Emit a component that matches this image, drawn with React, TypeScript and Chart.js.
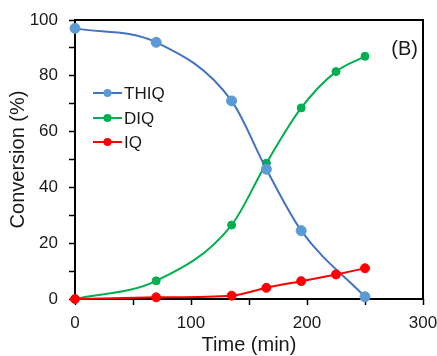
import React, { useEffect, useRef } from "react";
import { Chart, registerables } from "chart.js";

Chart.register(...registerables);

const thiqTime = [0, 70, 135, 165, 195, 250];
const thiqValues = [97, 92, 71, 46.5, 24.5, 0.8];
const diqTime = [0, 70, 135, 165, 195, 225, 250];
const diqValues = [0, 6.5, 26.5, 48.7, 68.5, 81.5, 87];
const iqTime = [0, 70, 135, 165, 195, 225, 250];
const iqValues = [0, 0.6, 1.2, 4, 6.4, 8.8, 11];

const seriesNames = ["THIQ", "DIQ", "IQ"];
const xTitle = "Time (min)";
const yTitle = "Conversion (%)";
const panelLabel = "(B)";

const FONT = '"Liberation Sans", Arial, sans-serif';

const toPoints = (xs: number[], ys: number[]) => xs.map((x, i) => ({ x, y: ys[i] }));

export default function App() {
  const ref = useRef<HTMLCanvasElement | null>(null);
  useEffect(() => {
    document.body.style.margin = "0";
    const canvas = ref.current!;
    const lineColors = ["#4472C4", "#00B050", "#FF0000"];
    const markerColors = ["#5B9BD5", "#00B050", "#FF0000"];

    const framePlugin = {
      id: "frame",
      beforeDatasetsDraw(chart: any) {
        const { ctx, chartArea: a } = chart;
        ctx.save();
        ctx.strokeStyle = "#000";
        ctx.lineWidth = 2;
        ctx.strokeRect(a.left, a.top, a.right - a.left, a.bottom - a.top);
        ctx.restore();
      },
      afterDraw(chart: any) {
        const { ctx } = chart;
        ctx.save();
        ctx.font = `17px ${FONT}`;
        ctx.textBaseline = "middle";
        ctx.textAlign = "left";
        const rows = [93, 118, 142];
        seriesNames.forEach((name, i) => {
          const y = rows[i];
          ctx.strokeStyle = lineColors[i];
          ctx.lineWidth = 2;
          ctx.beginPath();
          ctx.moveTo(93, y);
          ctx.lineTo(122, y);
          ctx.stroke();
          ctx.fillStyle = markerColors[i];
          ctx.beginPath();
          ctx.arc(107.5, y, 4, 0, Math.PI * 2);
          ctx.fill();
          ctx.fillStyle = "#1a1a1a";
          ctx.fillText(name, 124, y + 1);
        });
        ctx.font = `20px ${FONT}`;
        ctx.textAlign = "right";
        ctx.fillText(panelLabel, 418, 49);
        ctx.restore();
      },
    };

    const common = {
      borderWidth: 2,
      pointBorderWidth: 1,
      cubicInterpolationMode: "monotone",
      clip: false,
    };

    const chart = new Chart(canvas, {
      type: "line",
      data: {
        datasets: [
          {
            ...common,
            label: seriesNames[0],
            data: toPoints(thiqTime, thiqValues),
            borderColor: lineColors[0],
            backgroundColor: markerColors[0],
            pointBackgroundColor: markerColors[0],
            pointBorderColor: markerColors[0],
            pointRadius: 5,
            order: 2,
          } as any,
          {
            ...common,
            label: seriesNames[1],
            data: toPoints(diqTime, diqValues),
            borderColor: lineColors[1],
            backgroundColor: markerColors[1],
            pointBackgroundColor: markerColors[1],
            pointBorderColor: markerColors[1],
            pointRadius: 4,
            order: 3,
          } as any,
          {
            ...common,
            label: seriesNames[2],
            data: toPoints(iqTime, iqValues),
            borderColor: lineColors[2],
            backgroundColor: markerColors[2],
            pointBackgroundColor: markerColors[2],
            pointBorderColor: markerColors[2],
            pointRadius: 4.5,
            order: 1,
          } as any,
        ],
      },
      options: {
        responsive: false,
        animation: false,
        layout: { padding: { left: 0, top: 20, right: 14, bottom: 0 } },
        plugins: { legend: { display: false }, tooltip: { enabled: false } },
        scales: {
          x: {
            type: "linear",
            min: 0,
            max: 300,
            afterFit: (s: any) => {
              s.height = 57;
              s.paddingRight = 0;
              s.paddingLeft = 0;
            },
            ticks: {
              stepSize: 50,
              padding: 8,
              color: "#1a1a1a",
              font: { family: FONT, size: 17 },
              maxRotation: 0,
              callback: (v: any) => (Number(v) % 100 === 0 ? String(v) : ""),
            },
            grid: { drawOnChartArea: false, drawTicks: true, tickLength: 6, tickColor: "#000", tickWidth: 1.5 },
            border: { display: false },
            title: {
              display: true,
              text: xTitle,
              color: "#1a1a1a",
              font: { family: FONT, size: 20, lineHeight: 1 },
              padding: { top: 0, bottom: 1 },
            },
          },
          y: {
            min: 0,
            max: 100,
            afterFit: (s: any) => {
              s.width = 75;
              s.paddingTop = 0;
              s.paddingBottom = 0;
            },
            ticks: {
              stepSize: 10,
              padding: 11,
              color: "#1a1a1a",
              font: { family: FONT, size: 17 },
              callback: (v: any) => (Number(v) % 20 === 0 ? String(v) : ""),
            },
            grid: { drawOnChartArea: false, drawTicks: true, tickLength: 6, tickColor: "#000", tickWidth: 1.5 },
            border: { display: false },
            title: {
              display: true,
              text: yTitle,
              color: "#1a1a1a",
              font: { family: FONT, size: 20, lineHeight: 1 },
              padding: { top: 8, bottom: 0 },
            },
          },
        },
      },
      plugins: [framePlugin],
    });
    return () => chart.destroy();
  }, []);
  return <canvas ref={ref} width={437} height={356} style={{ display: "block" }} />;
}
